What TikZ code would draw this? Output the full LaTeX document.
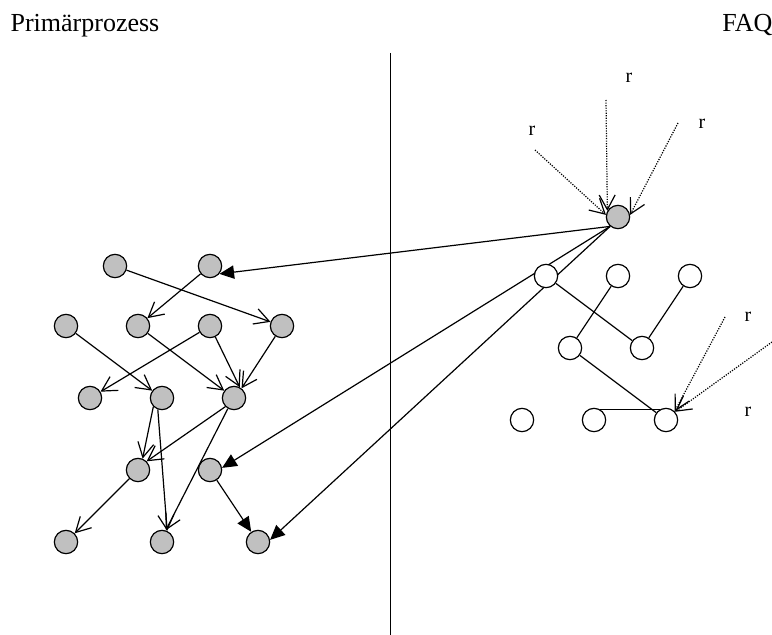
\documentclass[tikz,border=0pt]{standalone}
\usepackage{fontspec}
\setmainfont{Liberation Serif}
\usepackage{tikz}
\usetikzlibrary{arrows.meta}
\definecolor{procGray}{HTML}{C0C0C0}

\tikzset{
  fullnode/.style={circle, draw, fill=procGray, minimum size=17.5pt, inner sep=0pt, line width=0.9pt},
  emptynode/.style={circle, draw, fill=white, minimum size=17.5pt, inner sep=0pt, line width=0.9pt},
  openarr/.style={-{Straight Barb[length=11pt,width=12pt]}},
  fullarr/.style={-{Triangle[length=11pt,width=10pt]}},
  refarr/.style={densely dotted, -{Straight Barb[length=11pt,width=12pt]}},
  rlabel/.style={font=\fontsize{15}{17}\selectfont, inner sep=0pt},
}

\begin{document}
\begin{tikzpicture}[x=0.75pt, y=-0.75pt, line width=0.9pt]
  \useasboundingbox (0,0) rectangle (772,635);

  % Titles and divider
  \node[anchor=base west, inner sep=0pt, font=\fontsize{19.5}{23}\selectfont] (primTitle) at (10,32) {Primärprozess};
  \node[anchor=base east, inner sep=0pt, font=\fontsize{19.5}{23}\selectfont] (faqTitle) at (773,32) {FAQ};
  \draw[line width=0.75pt] (390,53) -- (390,635);

  % Primary process nodes
  \node[fullnode] (pA1) at (115,266) {};
  \node[fullnode] (pA2) at (210,266) {};
  \node[fullnode] (pB1) at (66,326) {};
  \node[fullnode] (pB2) at (138,326) {};
  \node[fullnode] (pB3) at (210,326) {};
  \node[fullnode] (pB4) at (282,326) {};
  \node[fullnode] (pC1) at (90,398) {};
  \node[fullnode] (pC2) at (162,398) {};
  \node[fullnode] (pC3) at (234,398) {};
  \node[fullnode] (pD1) at (138,470) {};
  \node[fullnode] (pD2) at (210,470) {};
  \node[fullnode] (pE1) at (66,542) {};
  \node[fullnode] (pE2) at (162,542) {};
  \node[fullnode] (pE3) at (258,542) {};

  % FAQ entry and links to primary process
  \node[fullnode] (faqTop) at (618,217) {};
  \draw[fullarr] (faqTop.230) -- (pA2.-40);
  \draw[fullarr] (faqTop.230) -- (pD2.10);
  \draw[fullarr] (faqTop.230) -- (pE3.10);

  % FAQ nodes
  \node[emptynode] (fR1) at (546,276) {};
  \node[emptynode] (fR2) at (618,276) {};
  \node[emptynode] (fR3) at (690,276) {};
  \node[emptynode] (fR4) at (570,348) {};
  \node[emptynode] (fR5) at (642,348) {};
  \node[emptynode] (fR6) at (522,420) {};
  \node[emptynode] (fR7) at (594,420) {};
  \node[emptynode] (fR8) at (666,420) {};

  % Primary process flow
  \draw[openarr] (pA1) -- (pB4);
  \draw[openarr] (pA2) -- (pB2);
  \draw[openarr] (pB1) -- (pC2);
  \draw[openarr] (pB3) -- (pC1);
  \draw[openarr] (pB2) -- (pC3);
  \draw[openarr] (pB3) -- (pC3.62);
  \draw[openarr] (pB4) -- (pC3.52);
  \draw[openarr] (pC2.225) -- (pD1.68);
  \draw[openarr] (pC2.250) -- (pE2.65);
  \draw[openarr] (pC3.225) -- (pD1.45);
  \draw[openarr] (pC3.240) -- (pE2.72);
  \draw[openarr] (pD1) -- (pE1);
  \draw[fullarr] (pD2) -- (pE3);

  % FAQ links
  \draw (fR1) -- (fR5);
  \draw (fR2) -- (fR4);
  \draw (fR3) -- (fR5);
  \draw (fR4) -- (fR8);
  \draw (fR7.60) -- (fR8.120);

  % References
  \coordinate (refA) at (535,150);
  \coordinate (refB) at (606,100);
  \coordinate (refC) at (678,123);
  \coordinate (refD) at (725,317);
  \coordinate (refE) at (772,342);
  \draw[refarr] (refA) -- (faqTop.170);
  \draw[refarr] (refB) -- (faqTop.150);
  \draw[refarr] (refC) -- (faqTop.10);
  \draw[refarr] (refD) -- (fR8.45);
  \draw[refarr] (refE) -- (fR8.42);
  \node[rlabel] (rA) at (532,131) {r};
  \node[rlabel] (rB) at (629,78) {r};
  \node[rlabel] (rC) at (702,124) {r};
  \node[rlabel] (rD) at (748,317) {r};
  \node[rlabel] (rE) at (748,412) {r};
\end{tikzpicture}
\end{document}
